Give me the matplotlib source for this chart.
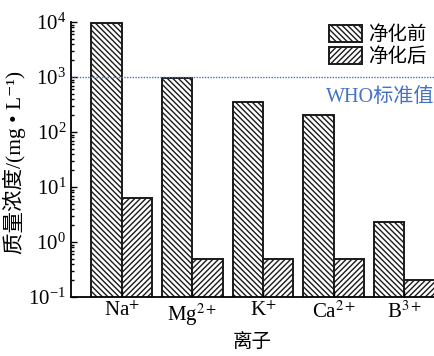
import matplotlib
matplotlib.use("Agg")
import matplotlib.pyplot as plt
import numpy as np

plt.rcParams["font.family"] = ["Liberation Serif", "Noto Sans CJK SC"]
plt.rcParams["mathtext.fontset"] = "stix"
plt.rcParams["hatch.linewidth"] = 1.0

IONS = ["Na$^{+}$", "Mg$^{2+}$", "K$^{+}$", "Ca$^{2+}$", "B$^{3+}$"]
BEFORE = [9500, 950, 350, 200, 2.3]
AFTER = [6.2, 0.5, 0.5, 0.5, 0.2]
WHO_LIMIT = 1000

CJK = ["Noto Sans CJK SC", "DejaVu Sans"]
MIX = ["Liberation Serif", "Noto Sans CJK SC", "DejaVu Sans"]

fig = plt.figure(figsize=(4.34, 3.56), dpi=100)
ax = fig.add_axes([71 / 434, 1 - 297 / 356, 1 - 71 / 434, (297 - 22) / 356])

x = np.arange(len(IONS))
w = 0.43
ax.bar(x - w / 2, BEFORE, w, facecolor="white", edgecolor="#1a1a1a",
       hatch="\\" * 6, linewidth=1.4, label="净化前")
ax.bar(x + w / 2, AFTER, w, facecolor="white", edgecolor="#1a1a1a",
       hatch="/" * 6, linewidth=1.4, label="净化后")

ax.axhline(WHO_LIMIT, color="#4472C4", linestyle=(0, (1, 1)), linewidth=1.0)
ax.text(4.42, 420, "WHO标准值", color="#4472C4", fontsize=14.5,
        ha="right", va="center", family=MIX)

ax.set_yscale("log")
ax.set_ylim(0.1, 10000)
ax.set_xlim(-0.72, 4.42)
ax.set_xticks(x)
ax.set_xticklabels(IONS, fontsize=15)
ax.tick_params(axis="y", labelsize=15)
ax.tick_params(which="both", direction="in", length=4, width=1.0)
ax.tick_params(which="minor", length=2.5)
ax.spines["top"].set_visible(False)
ax.spines["right"].set_visible(False)
ax.spines["left"].set_linewidth(1.3)
ax.spines["bottom"].set_linewidth(1.3)

ax.set_xlabel("离子", fontsize=14, family=CJK, labelpad=2)
ax.set_ylabel("质量浓度/(mg • L⁻¹)", fontsize=15.5, family=MIX)
ax.yaxis.set_label_coords(-0.125, 0.49)

ax.legend(loc="upper right", prop={"family": CJK, "size": 14},
          frameon=False, handlelength=1.7, handleheight=0.9,
          handletextpad=0.3, labelspacing=0.05, borderaxespad=0.0,
          bbox_to_anchor=(1.0, 1.02))

fig.savefig("out.png", dpi=100, facecolor="white")
